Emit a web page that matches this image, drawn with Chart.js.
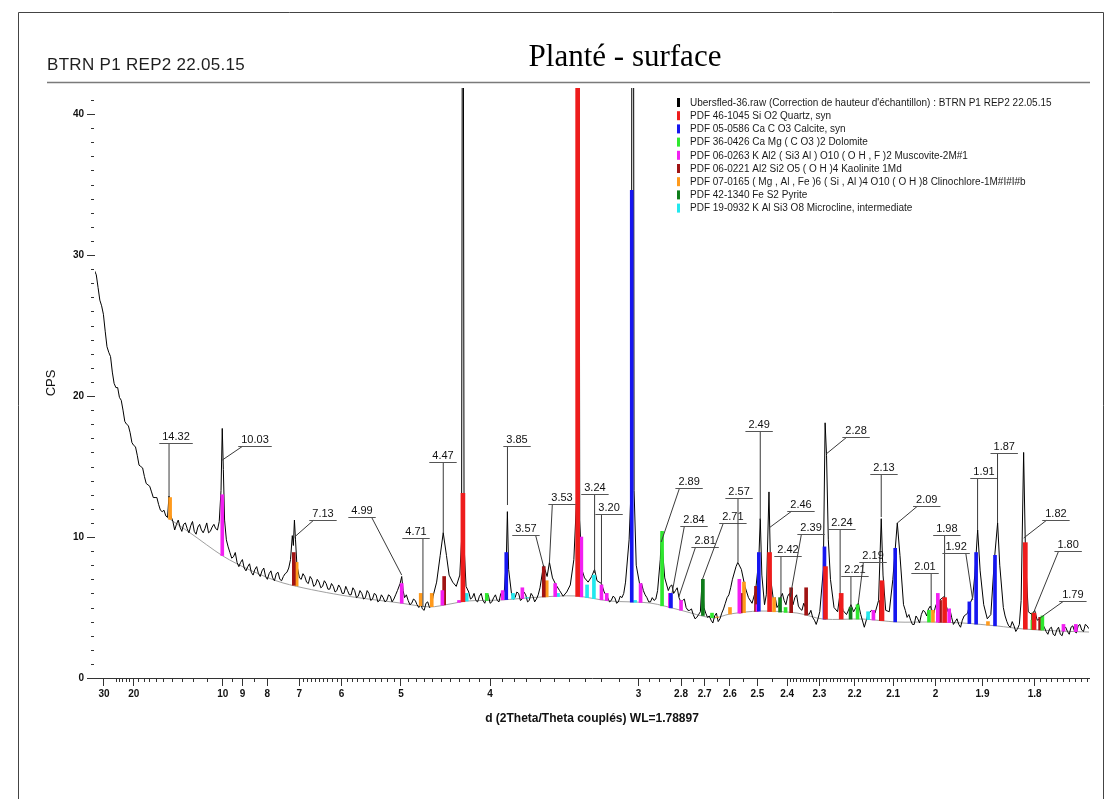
<!DOCTYPE html>
<html>
<head>
<meta charset="utf-8">
<script src="https://cdn.jsdelivr.net/npm/chart.js@4/dist/chart.umd.min.js"></script>
<style>
html,body{margin:0;padding:0;background:#fff;}
#wrap{position:relative;width:1114px;height:799px;}
canvas{display:block;}
</style>
</head>
<body>
<div id="wrap"><canvas id="c" width="1114" height="799"></canvas></div>
<script>
// ---------- DATA (x values are 1/d in 1/Å, the axis is linear in 1/d and labelled in d) ----------
const scanInvD = [
0.028,0.030,0.032,0.034,0.036,0.038,0.040,0.042,0.044,0.046,
0.048,0.050,0.052,0.054,0.056,0.058,0.060,0.062,0.064,0.066,
0.068,0.069,0.0698,0.0706,0.072,0.074,0.076,0.078,0.080,0.082,
0.084,0.086,0.088,0.090,0.092,0.094,0.096,0.098,0.099,0.0997,
0.1003,0.101,0.102,0.104,0.106,0.108,0.110,0.112,0.114,0.116,
0.118,0.120,0.122,0.124,0.126,0.128,0.130,0.132,0.134,0.136,
0.138,0.139,0.1396,0.1402,0.1408,0.1416,0.143,0.144,0.146,0.148,
0.150,0.152,0.154,0.156,0.158,0.160,0.162,0.164,0.166,0.168,
0.170,0.172,0.174,0.176,0.178,0.180,0.182,0.184,0.186,0.188,
0.190,0.192,0.194,0.196,0.198,0.1995,0.2004,0.2012,0.202,0.204,
0.206,0.208,0.210,0.212,0.214,0.216,0.218,0.220,0.222,0.2237,
0.2255,0.227,0.229,0.231,0.233,0.2340,0.2347,0.2354,0.2365,0.238,
0.240,0.242,0.244,0.246,0.248,0.250,0.252,0.254,0.256,0.258,
0.2591,0.2597,0.2604,0.262,0.264,0.266,0.268,0.270,0.272,0.274,
0.276,0.278,0.280,0.282,0.2833,0.285,0.287,0.289,0.291,0.293,
0.295,0.297,0.2985,0.2994,0.3003,0.3015,0.303,0.305,0.307,0.3086,
0.310,0.3125,0.314,0.316,0.318,0.320,0.322,0.324,0.326,0.328,
0.3293,0.3300,0.3308,0.332,0.334,0.336,0.338,0.340,0.342,0.344,
0.3455,0.3462,0.347,0.348,0.350,0.352,0.354,0.356,0.358,0.360,
0.362,0.364,0.366,0.368,0.369,0.370,0.372,0.374,0.376,0.378,
0.380,0.382,0.384,0.386,0.388,0.389,0.391,0.393,0.395,0.397,
0.399,0.4008,0.4016,0.4025,0.404,0.405,0.4065,0.4075,0.409,0.411,
0.413,0.415,0.417,0.419,0.421,0.423,0.425,0.427,0.429,0.431,
0.433,0.435,0.437,0.4380,0.4388,0.4398,0.441,0.443,0.445,0.4464,
0.448,0.450,0.4525,0.454,0.4566,0.458,0.460,0.462,0.464,0.466,
0.468,0.4695,0.4705,0.472,0.474,0.476,0.4785,0.480,0.482,0.484,
0.486,0.488,0.490,0.492,0.494,0.496,0.498,0.500,0.502,0.505,
0.507,0.509,0.511,0.513,0.515,0.517,0.519,0.5208,0.522,0.5236,
0.525,0.527,0.529,0.531,0.533,0.5348,0.536,0.538,0.540,0.542,
0.544,0.546,0.548,0.5494,0.5505,0.552,0.554,0.5556,0.557,0.5587,
0.560,0.562,0.564,0.566,0.568,0.570,0.572,0.574,0.576,0.578,
0.580,0.582,0.584,0.586
];
const scanCps = [
28.9,27.7,26.4,24.6,23.1,21.7,20.6,19.9,19.0,18.0,
17.4,16.5,15.8,15.0,14.3,13.7,13.2,12.8,12.3,11.8,
11.5,11.4,12.9,11.6,11.1,10.9,10.7,10.9,10.6,10.8,
10.4,10.7,10.5,10.6,10.3,10.7,10.6,11.1,13.3,17.7,
14.8,11.2,9.8,8.9,8.6,8.2,8.2,7.8,7.9,7.5,
7.7,7.4,7.6,7.2,7.4,7.1,7.4,7.0,7.2,7.5,
8.4,10.1,9.4,11.2,9.8,8.0,7.1,7.0,7.2,6.7,
7.0,6.6,6.8,6.5,6.7,6.3,6.5,6.2,6.4,6.0,
6.2,5.9,6.2,5.8,6.0,5.7,6.0,5.6,5.9,5.5,
5.7,5.5,5.8,5.6,6.2,6.7,7.2,6.2,5.7,5.5,
5.3,5.5,5.0,4.9,5.3,5.0,5.8,6.8,8.7,10.3,
8.7,7.3,6.8,6.5,7.3,9.8,75,9.4,6.5,6.1,
5.7,5.5,5.8,5.5,5.7,5.3,5.7,5.5,6.0,6.2,
8.4,11.8,7.7,6.0,5.7,6.0,5.6,5.9,5.5,5.8,
5.6,6.4,8.0,7.2,8.2,7.1,6.6,6.2,5.8,6.1,
6.6,8.4,12.6,95,11.2,7.7,7.1,6.8,7.2,7.7,
6.9,6.7,6.1,5.7,5.5,5.7,5.4,5.7,6.8,9.8,
14.0,110,13.3,8.0,6.6,6.2,5.7,5.4,5.5,6.2,
8.4,10.4,8.7,7.1,6.2,6.6,6.2,5.7,5.5,5.0,
4.8,4.5,4.3,4.7,7.0,5.0,4.3,4.1,4.4,4.0,
4.6,5.3,5.9,7.0,7.9,8.2,7.7,6.5,5.7,5.3,
6.2,8.4,11.3,7.3,5.2,5.9,13.2,7.0,5.5,5.0,
5.7,5.5,5.8,5.4,5.7,5.1,4.8,5.0,4.5,4.3,
3.8,4.7,7.7,18.1,15.8,9.8,7.0,5.0,4.7,6.0,
4.8,4.5,5.2,4.7,5.3,4.5,3.6,4.5,4.8,4.6,
5.5,11.3,7.3,4.8,4.7,7.0,11.0,8.7,5.2,4.3,
4.1,3.8,4.2,4.5,4.7,4.9,4.8,5.1,5.5,5.8,
4.7,4.3,4.0,3.8,4.1,4.5,5.2,5.7,7.3,10.5,
7.6,5.2,4.2,4.5,8.4,11.0,8.0,5.0,4.0,3.6,
3.7,3.5,5.5,16.0,8.4,4.7,4.5,4.8,4.1,4.2,
3.8,3.3,3.5,3.1,3.4,3.1,3.5,3.3,3.6,3.3,
3.7,3.4,3.8,3.5
];
// extra readings of the noisy stretches (between the points above)
const scanNoiseInvD = [
0.029,0.031,0.033,0.035,0.037,0.039,0.041,0.043,0.045,0.047,
0.049,0.051,0.053,0.055,0.057,0.059,0.061,0.063,0.065,0.067,
0.073,0.075,0.077,0.079,0.081,0.083,0.085,0.087,0.089,0.091,
0.093,0.095,0.097,0.103,0.105,0.107,0.109,0.111,0.113,0.115,
0.117,0.119,0.121,0.123,0.125,0.127,0.129,0.131,0.133,0.135,
0.137,0.145,0.147,0.149,0.151,0.153,0.155,0.157,0.159,0.161,
0.163,0.165,0.167,0.169,0.171,0.173,0.175,0.177,0.179,0.181,
0.183,0.185,0.187,0.189,0.191,0.193,0.195,0.197,0.203,0.205,
0.207,0.209,0.211,0.213,0.215,0.217,0.239,0.241,0.243,0.245,
0.247,0.249,0.251,0.253,0.255,0.257,0.263,0.265,0.267,0.269,
0.271,0.273,0.275,0.277,0.315,0.317,0.319,0.321,0.323,0.325,
0.335,0.337,0.339,0.341,0.343,0.351,0.353,0.355,0.357,0.359,
0.361,0.363,0.365,0.367,0.371,0.373,0.375,0.377,0.379,0.381,
0.383,0.385,0.410,0.412,0.414,0.416,0.418,0.420,0.422,0.424,
0.426,0.428,0.430,0.432,0.434,0.483,0.485,0.487,0.489,0.491,
0.493,0.495,0.497,0.499,0.501,0.506,0.508,0.510,0.512,0.514,
0.516,0.518,0.539,0.541,0.543,0.545,0.547,0.561,0.563,0.565,
0.567,0.569,0.571,0.573,0.575,0.577,0.579,0.581,0.583,0.585
];
const scanNoiseCps = [
28.6,26.8,25.8,23.5,22.8,20.9,20.6,19.7,18.2,17.9,
16.7,16.4,15.1,14.9,13.8,13.6,12.8,12.8,11.9,11.9,
10.5,11.2,10.4,11.0,10.3,11.1,10.2,10.9,10.3,11.0,
10.4,10.9,10.5,9.3,8.5,8.9,7.9,8.4,7.6,8.1,
7.3,7.9,7.2,7.8,7.0,7.6,6.9,7.5,6.9,7.4,
7.8,7.4,6.8,7.2,6.5,7.0,6.4,6.9,6.3,6.7,
6.1,6.6,6.0,6.5,5.9,6.4,5.7,6.2,5.6,6.2,
5.5,6.0,5.4,5.9,5.4,5.9,5.4,5.9,5.9,5.2,
5.6,5.2,5.3,4.8,5.4,5.1,5.6,6.0,5.4,6.0,
5.3,5.9,5.4,5.9,5.4,5.9,5.6,6.1,5.5,6.1,
5.4,6.0,5.4,5.9,5.9,5.4,5.8,5.3,5.8,6.0,
6.7,5.9,5.4,5.7,5.6,6.5,6.0,6.4,5.4,5.6,
4.8,4.9,4.2,4.5,4.6,4.4,3.9,4.6,4.2,4.9,
5.7,6.4,5.7,5.2,6.0,5.2,6.0,5.2,5.9,4.9,
5.3,4.6,4.8,4.1,4.2,4.8,4.5,3.8,4.4,3.9,
4.8,4.4,5.1,4.6,5.4,5.1,4.9,3.8,4.2,3.6,
4.4,4.6,4.4,3.7,4.0,3.3,3.8,3.6,3.1,3.6,
3.0,3.6,3.0,3.6,3.1,3.7,3.2,3.8,3.3,3.7
];
const backgroundInvD = [0.0687,0.0816,0.1001,0.1152,0.1338,0.1658,0.1994,0.2162,0.2275,0.2370,0.2556,0.2780,0.2976,0.3173,0.3397,0.3566,0.3751,0.3846,0.4014,0.4222,0.4368,0.4593,0.4784,0.4969,0.5154,0.5345,0.5491,0.5698,0.5861];
const backgroundCps  = [11.4,10.3,8.65,7.66,6.74,5.89,5.32,5.04,5.25,5.46,5.53,5.74,5.82,5.46,5.32,4.82,4.26,4.54,4.75,4.61,4.18,4.18,3.97,3.97,3.90,3.69,3.48,3.33,3.26];

// reference patterns (stick positions in d, top of stick in CPS)
const quartzD = [4.26,3.343,2.458,2.282,2.237,2.128,1.980,1.817,1.801];
const quartzTop = [13.1,120,8.9,7.9,6.0,6.9,5.7,9.6,4.6];
const calciteD = [3.86,3.035,2.845,2.495,2.285,2.095,1.927,1.913,1.875];
const calciteTop = [8.9,34.6,6.0,8.9,9.3,9.2,5.4,8.9,8.7];
const dolomiteD = [4.03,2.886,2.67,2.405,2.192,2.015,1.804,1.786];
const dolomiteTop = [6.0,10.4,4.6,5.0,5.2,4.8,4.1,4.4];
const muscoviteD = [10.03,4.99,4.48,4.30,3.89,3.73,3.49,3.32,3.20,3.17,2.99,2.85,2.80,2.565,2.50,2.15,1.995,1.97,1.749,1.728];
const muscoviteTop = [13.0,6.7,6.2,5.5,6.2,6.4,6.7,10.0,6.6,6.0,6.7,6.0,5.5,7.0,5.2,4.8,6.0,4.9,3.8,3.8];
const kaoliniteD = [7.15,4.46,3.57,2.56,2.505,2.387,2.340,2.131,1.990,1.790];
const kaoliniteTop = [8.9,7.2,7.9,6.0,6.5,6.4,6.4,5.5,5.5,4.3];
const clinochloreD = [14.2,7.07,4.738,4.603,3.549,2.650,2.600,2.548,2.443,2.006,1.889];
const clinochloreTop = [12.8,8.2,6.0,6.0,6.9,4.3,5.0,6.8,5.7,4.8,4.0];
const pyriteD = [2.707,2.423,2.211,1.803];
const pyriteTop = [7.0,5.7,5.0,4.6];
const microclineD = [4.222,3.804,3.694,3.471,3.285,3.244,3.018,2.164];
const microclineTop = [6.0,6.0,5.7,6.0,6.6,7.3,5.5,4.7];

const legendNames = [
  "Ubersfled-36.raw (Correction de hauteur d'échantillon) : BTRN P1 REP2 22.05.15",
  "PDF 46-1045 Si O2 Quartz, syn",
  "PDF 05-0586 Ca C O3 Calcite, syn",
  "PDF 36-0426 Ca Mg ( C O3 )2 Dolomite",
  "PDF 06-0263 K Al2 ( Si3 Al ) O10 ( O H , F )2 Muscovite-2M#1",
  "PDF 06-0221 Al2 Si2 O5 ( O H )4 Kaolinite 1Md",
  "PDF 07-0165 ( Mg , Al , Fe )6 ( Si , Al )4 O10 ( O H )8 Clinochlore-1M#I#I#b",
  "PDF 42-1340 Fe S2 Pyrite",
  "PDF 19-0932 K Al Si3 O8 Microcline, intermediate"
];

// peak labels: text (= d of the peak), CPS where the leader touches, label position (d, CPS of underline)
const peakText = ['14.32','10.03','7.13','4.99','4.71','4.47','3.85','3.57','3.53','3.24','3.20','2.89','2.84','2.81','2.71','2.57','2.49','2.46','2.42','2.39','2.28','2.24','2.21','2.19','2.13','2.09','2.01','1.98','1.92','1.91','1.87','1.82','1.80','1.79'];
const peakLeaderCps = [12.84,15.46,10.0,7.30,5.04,10.28,12.27,7.87,8.16,7.45,6.74,9.65,6.03,5.74,6.95,8.23,11.21,10.64,5.67,5.74,15.89,6.03,5.04,5.32,11.42,10.99,4.82,5.74,5.53,10.50,10.99,9.93,4.82,4.26];
const labelAtD = [13.56,8.470,6.401,5.614,4.798,4.473,3.772,3.702,3.444,3.238,3.157,2.765,2.744,2.698,2.589,2.566,2.494,2.356,2.397,2.325,2.196,2.235,2.199,2.151,2.123,2.020,2.024,1.975,1.955,1.897,1.857,1.762,1.741,1.733];
const labelAtCps = [16.67,16.45,11.21,11.42,9.93,15.32,16.45,10.14,12.34,13.05,11.63,13.48,10.78,9.29,10.99,12.77,17.52,11.84,8.65,10.21,17.09,10.57,7.23,8.23,14.47,12.20,7.45,10.14,8.87,14.18,15.96,11.21,9.01,5.46];

const xTickD = [30,20,10,9,8,7,6,5,4,3,2.8,2.7,2.6,2.5,2.4,2.3,2.2,2.1,2,1.9,1.8];
const xTickLabels = ['30','20','10','9','8','7','6','5','4','3','2.8','2.7','2.6','2.5','2.4','2.3','2.2','2.1','2','1.9','1.8'];
const yTicks = [0,10,20,30,40];
const yTickLabels = ['0','10','20','30','40'];

const chartTitleLeft = 'BTRN P1 REP2 22.05.15';
const chartTitleCenter = 'Planté - surface';
const xTitle = 'd (2Theta/Theta couplés) WL=1.78897';
const yTitle = 'CPS';

// ---------- helpers ----------
function bgAt(q) {
  if (q <= backgroundInvD[0]) return backgroundCps[0];
  for (let i = 1; i < backgroundInvD.length; i++) {
    if (q <= backgroundInvD[i]) {
      const t = (q - backgroundInvD[i-1]) / (backgroundInvD[i] - backgroundInvD[i-1]);
      return backgroundCps[i-1] + t * (backgroundCps[i] - backgroundCps[i-1]);
    }
  }
  return backgroundCps[backgroundCps.length - 1];
}
function sticks(ds, tops) {
  return ds.map((d, i) => ({ x: 1 / d, y: [bgAt(1 / d), tops[i]] }));
}
const FONT = '"Liberation Sans", Arial, Helvetica, sans-serif';

const scanPoints = scanInvD.map((q, i) => ({ x: q, y: scanCps[i] }))
  .concat(scanNoiseInvD.map((q, i) => ({ x: q, y: scanNoiseCps[i] })))
  .sort((a, b) => a.x - b.x);

const phases = [
  { name: legendNames[1], color: '#ee1c1c', w: 4, data: sticks(quartzD, quartzTop) },
  { name: legendNames[2], color: '#1616f0', w: 3, data: sticks(calciteD, calciteTop) },
  { name: legendNames[3], color: '#2ee82e', w: 3, data: sticks(dolomiteD, dolomiteTop) },
  { name: legendNames[4], color: '#f21ff2', w: 3, data: sticks(muscoviteD, muscoviteTop) },
  { name: legendNames[5], color: '#a01414', w: 3, data: sticks(kaoliniteD, kaoliniteTop) },
  { name: legendNames[6], color: '#ff9a1c', w: 3, data: sticks(clinochloreD, clinochloreTop) },
  { name: legendNames[7], color: '#0e7d1a', w: 3, data: sticks(pyriteD, pyriteTop) },
  { name: legendNames[8], color: '#22e8ee', w: 3, data: sticks(microclineD, microclineTop) }
];

const datasets = [
  { type: 'line', label: legendNames[0], data: scanPoints,
    borderColor: '#000', borderWidth: 1, pointRadius: 0, tension: 0, fill: false, order: 3 },
  { type: 'line', label: 'background', data: backgroundInvD.map((q, i) => ({ x: q, y: backgroundCps[i] })),
    borderColor: '#a0a0a0', borderWidth: 1, pointRadius: 0, tension: 0.3, fill: false, order: 4 }
].concat(phases.map(p => ({
  type: 'bar', label: p.name, data: p.data, backgroundColor: p.color, borderWidth: 0,
  barThickness: p.w, grouped: false, order: 1
})));

// minor tick positions
const xMinorD = [];
[21,22,23,24,25].forEach(v => xMinorD.push(v));
for (let v = 11; v <= 19; v++) xMinorD.push(v);
xMinorD.push(9.5, 8.5);
for (let k = 31; k <= 69; k++) if (k % 10 !== 0) xMinorD.push(k / 10);
for (let k = 245; k <= 295; k += 5) if (k % 10 !== 0 || k === 290) xMinorD.push(k / 100);
for (let k = 171; k <= 239; k++) if (k % 10 !== 0) xMinorD.push(k / 100);

const decor = {
  id: 'decor',
  beforeDraw(chart) {
    const ctx = chart.ctx;
    ctx.save();
    ctx.fillStyle = '#fff';
    ctx.fillRect(0, 0, chart.width, chart.height);
    ctx.restore();
  },
  afterDatasetsDraw(chart) {
    const ctx = chart.ctx, xs = chart.scales.x, ys = chart.scales.y;
    ctx.save();
    ctx.font = '11px ' + FONT;
    ctx.textAlign = 'center';
    ctx.textBaseline = 'alphabetic';
    peakText.forEach((t, i) => {
      const w = ctx.measureText(t).width;
      const cx = xs.getPixelForValue(1 / labelAtD[i]);
      const uy = Math.round(ys.getPixelForValue(labelAtCps[i])) + 0.5;
      const l = cx - w / 2 - 3, r = cx + w / 2 + 3;
      const px = xs.getPixelForValue(1 / parseFloat(t));
      const py = ys.getPixelForValue(peakLeaderCps[i]);
      const sx = Math.min(Math.max(px, l + 4), r - 4);
      ctx.strokeStyle = '#3a3a3a';
      ctx.lineWidth = 1;
      ctx.beginPath(); ctx.moveTo(sx, uy); ctx.lineTo(px, py); ctx.stroke();
      ctx.strokeStyle = '#555';
      ctx.beginPath(); ctx.moveTo(l, uy); ctx.lineTo(r, uy); ctx.stroke();
      ctx.fillStyle = '#111';
      ctx.fillText(t, cx, uy - 4);
    });
    ctx.restore();
  },
  afterDraw(chart) {
    const ctx = chart.ctx, xs = chart.scales.x, ys = chart.scales.y, a = chart.chartArea;
    ctx.save();
    // frame
    ctx.strokeStyle = '#444'; ctx.lineWidth = 1;
    ctx.beginPath(); ctx.moveTo(18.5, 799); ctx.lineTo(18.5, 12.5); ctx.lineTo(1103.5, 12.5); ctx.lineTo(1103.5, 799); ctx.stroke();
    // separator under the title
    ctx.strokeStyle = '#7a7a7a'; ctx.lineWidth = 1.5;
    ctx.beginPath(); ctx.moveTo(47, 82.5); ctx.lineTo(1090, 82.5); ctx.stroke();
    // titles
    ctx.fillStyle = '#1e1e1e';
    ctx.font = '17px ' + FONT;
    ctx.textAlign = 'left'; ctx.textBaseline = 'alphabetic';
    try { ctx.letterSpacing = '0.3px'; } catch (e) {}
    ctx.fillText(chartTitleLeft, 47, 70);
    try { ctx.letterSpacing = '0px'; } catch (e) {}
    ctx.fillStyle = '#000';
    ctx.font = '31px "Liberation Serif", "Times New Roman", serif';
    ctx.textAlign = 'center';
    ctx.fillText(chartTitleCenter, 625, 66);
    // minor ticks x
    ctx.strokeStyle = '#333'; ctx.lineWidth = 1;
    ctx.beginPath();
    xMinorD.forEach(d => {
      const q = 1 / d;
      if (q < xs.min || q > xs.max) return;
      const px = Math.round(xs.getPixelForValue(q)) + 0.5;
      ctx.moveTo(px, a.bottom); ctx.lineTo(px, a.bottom + 4);
    });
    // minor ticks y
    for (let v = 1; v <= 41; v++) {
      if (v % 10 === 0) continue;
      const py = Math.round(ys.getPixelForValue(v)) + 0.5;
      ctx.moveTo(a.left - 4, py); ctx.lineTo(a.left - 1, py);
    }
    ctx.stroke();
    // legend
    const rows = [{ name: legendNames[0], color: '#000' }].concat(phases);
    ctx.font = '10px ' + FONT;
    ctx.textAlign = 'left'; ctx.textBaseline = 'middle';
    rows.forEach((r, i) => {
      const y = 102.5 + i * 13.2;
      ctx.fillStyle = r.color;
      ctx.fillRect(677, y - 4.5, 3, 9);
      ctx.fillStyle = '#1a1a1a';
      ctx.fillText(r.name, 690, y + 0.5);
    });
    ctx.restore();
  }
};

new Chart(document.getElementById('c'), {
  type: 'line',
  data: { datasets },
  options: {
    responsive: false,
    animation: false,
    events: [],
    devicePixelRatio: 1,
    layout: { padding: { left: 40, top: 88, right: 25, bottom: 71 } },
    plugins: { legend: { display: false }, tooltip: { enabled: false }, title: { display: false } },
    scales: {
      x: {
        type: 'linear', min: 0.028283, max: 0.586083, offset: false,
        afterBuildTicks: s => { s.ticks = xTickD.map(d => ({ value: 1 / d })); },
        afterFit: s => { s.height = 50; },
        ticks: { autoSkip: false, maxRotation: 0, minRotation: 0, padding: 2, color: '#111',
                 font: { family: FONT, size: 10, weight: 'bold' },
                 callback: (v, i) => xTickLabels[i] },
        grid: { drawOnChartArea: false, drawTicks: true, tickLength: 8, tickColor: '#333', offset: false },
        border: { display: true, color: '#333', width: 1 },
        title: { display: true, text: xTitle, color: '#111', font: { family: FONT, size: 12, weight: 'bold' }, padding: { top: 0, bottom: 2 } }
      },
      y: {
        type: 'linear', min: 0, max: 41.85,
        afterBuildTicks: s => { s.ticks = yTicks.map(v => ({ value: v })); },
        afterFit: s => { s.width = 55; },
        ticks: { padding: 3, color: '#111', font: { family: FONT, size: 10, weight: 'bold' },
                 callback: (v, i) => yTickLabels[i] },
        grid: { drawOnChartArea: false, drawTicks: true, tickLength: 8, tickColor: '#333' },
        border: { display: false },
        title: { display: true, text: yTitle, color: '#111', font: { family: FONT, size: 13 }, padding: { top: 4, bottom: 0 } }
      }
    }
  },
  plugins: [decor]
});
</script>
</body>
</html>
